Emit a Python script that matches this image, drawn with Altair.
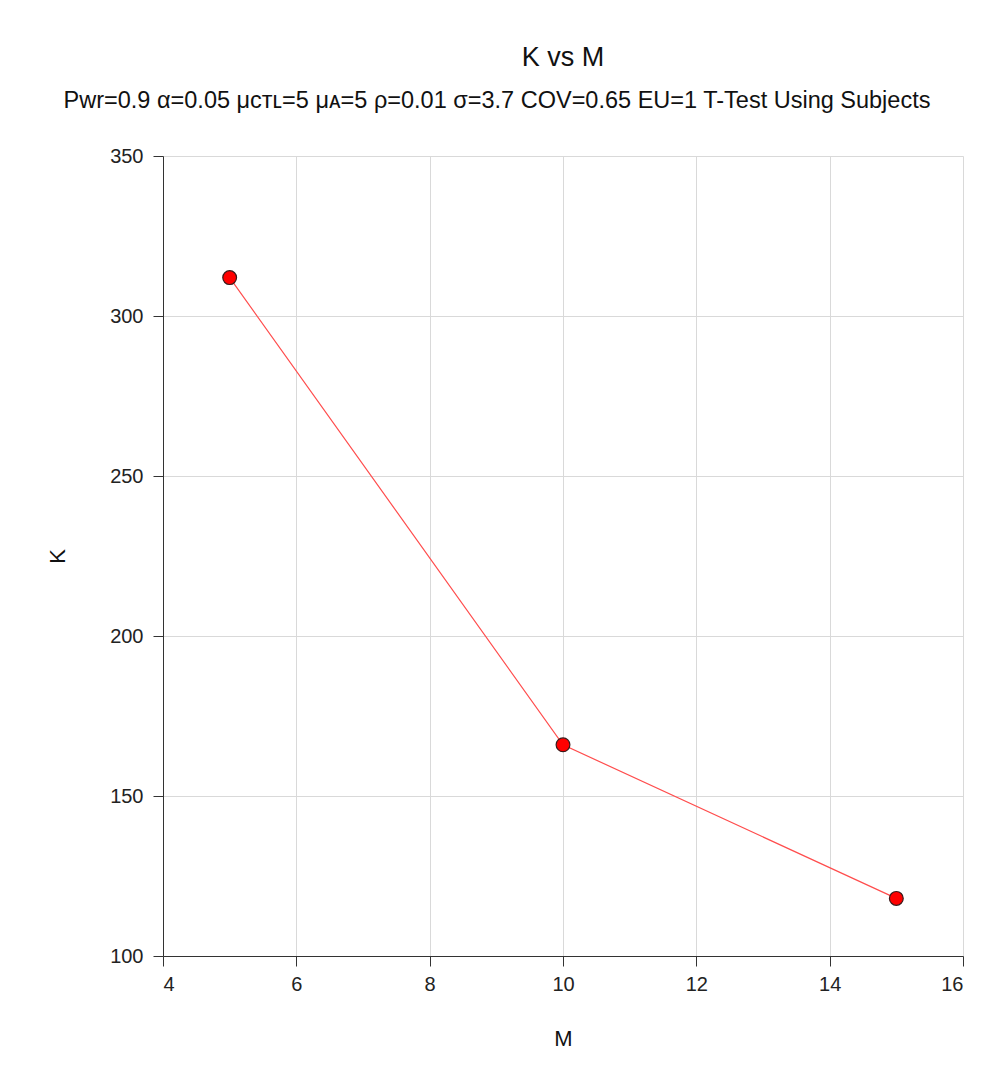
import altair as alt
import pandas as pd

m_values = [5, 10, 15]
k_values = [312, 166, 118]

df = pd.DataFrame({"M": m_values, "K": k_values})

subtitle = "Pwr=0.9 α=0.05 μᴄᴛʟ=5 μᴀ=5 ρ=0.01 σ=3.7 COV=0.65 EU=1 T-Test Using Subjects"
sub_df = pd.DataFrame({"t": [subtitle]})

x = alt.X("M:Q", scale=alt.Scale(domain=[4, 16], nice=False),
          axis=alt.Axis(values=[4, 6, 8, 10, 12, 14, 16], title="M"))
y = alt.Y("K:Q", scale=alt.Scale(domain=[100, 350], nice=False),
          axis=alt.Axis(values=[100, 150, 200, 250, 300, 350], title="K"))

line = alt.Chart(df).mark_line(color="#ff4d4d", strokeWidth=1.2).encode(x=x, y=y)
pts = alt.Chart(df).mark_point(filled=True, shape="circle", size=190, fill="#ff0000",
                               stroke="#3a1a1a", strokeWidth=1.2, opacity=1).encode(x=x, y=y)
sub = alt.Chart(sub_df).mark_text(font="Liberation Sans", fontSize=23.5, color="#111",
                                  align="center", baseline="middle").encode(
    text="t:N", x=alt.value(334), y=alt.value(-55))

chart = alt.layer(line, pts, sub).properties(
    width=800, height=800,
    title=alt.TitleParams(text="K vs M", anchor="middle",
                          font="Liberation Sans", fontSize=27, fontWeight="normal",
                          color="#111", offset=17),
    autosize=alt.AutoSizeParams(type="none"),
    padding={"left": 155, "top": 148, "right": 26, "bottom": 117},
).configure_axis(
    labelFont="Liberation Sans", labelFontSize=20, labelColor="#222",
    titleFont="Liberation Sans", titleFontSize=22, titleFontWeight="normal", titleColor="#111",
    gridColor="#d9d9d9", gridWidth=1, domainColor="#333", tickColor="#333",
    tickSize=10,
).configure_axisX(titlePadding=34, labelPadding=8).configure_axisY(
    titlePadding=40, labelPadding=10
).configure_view(stroke=None)

chart.save("out.html", embed_options={"renderer": "svg", "actions": False})
